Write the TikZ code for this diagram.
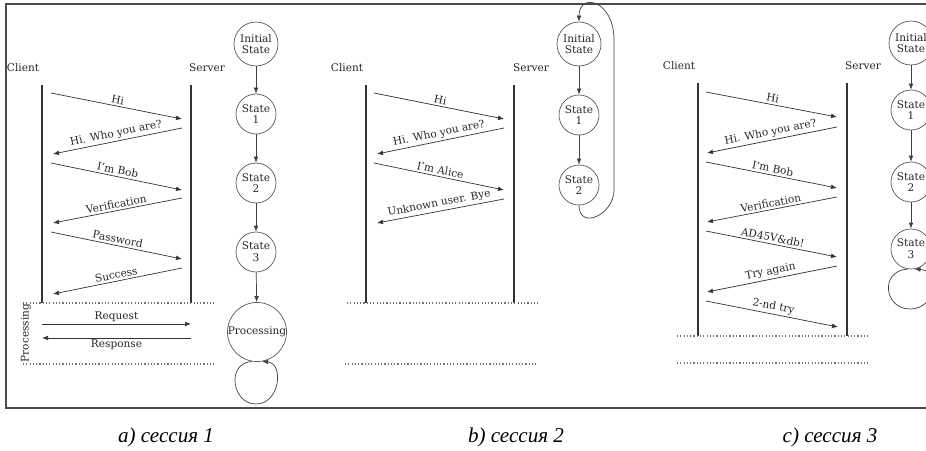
\documentclass[tikz,border=0pt]{standalone}
\usepackage{fontspec}
\setmainfont{DejaVu Serif}
\newfontfamily\capfont{Liberation Serif}
\usetikzlibrary{arrows.meta,calc}

\begin{document}
\begin{tikzpicture}[
    x=0.03cm, y=-0.03cm,
    every node/.style={font=\fontsize{9}{10}\selectfont, text=black!85},
    state/.style={circle, draw=black!65, line width=0.6pt, align=center, inner sep=1pt, minimum size=1.2cm},
    lifeline/.style={line width=1.5pt, draw=black!80},
    msg/.style={-{Latex[length=1.8mm, width=1.4mm]}, line width=0.6pt, draw=black!80},
    lbl/.style={midway, sloped, above, inner sep=1.8pt},
    trans/.style={-{Latex[length=1.8mm, width=1.4mm]}, line width=0.6pt, draw=black!75},
    sep/.style={line width=0.9pt, draw=black!55, dash pattern=on 1pt off 1.8pt},
    frame/.style={line width=0.9pt, draw=black!70},
    caption/.style={font=\capfont\itshape\fontsize{18}{20}\selectfont, text=black}
  ]
    \useasboundingbox (0,0) rectangle (926,451);
    \clip (0,0) rectangle (926,451);
    \draw[frame] (6,4) rectangle (950,408);

    % a) session 1: lifelines
    \coordinate (aC) at (42,85);
    \coordinate (aS) at (191,85);
    \coordinate (aCe) at (42,303);
    \coordinate (aSe) at (191,303);
    \node (aclient) at (23,68) {Client};
    \node (aserver) at (207,68) {Server};
    \draw[lifeline] (aC) -- (aCe);
    \draw[lifeline] (aS) -- (aSe);

    % a) messages
    \draw[msg] ($(aC)+(9,8)$) -- ($(aS)+(-9,34)$) node[lbl] {Hi};
    \draw[msg] ($(aS)+(-9,43)$) -- ($(aC)+(11,69)$) node[lbl] {Hi. Who you are?};
    \draw[msg] ($(aC)+(9,78)$) -- ($(aS)+(-9,105)$) node[lbl] {I'm Bob};
    \draw[msg] ($(aS)+(-9,113)$) -- ($(aC)+(11,138)$) node[lbl] {Verification};
    \draw[msg] ($(aC)+(9,147)$) -- ($(aS)+(-9,174)$) node[lbl] {Password};
    \draw[msg] ($(aS)+(-9,183)$) -- ($(aC)+(11,209)$) node[lbl] {Success};

    % a) processing block
    \draw[sep] ($(aCe)+(-19,0)$) -- ($(aSe)+(24,0)$);
    \draw[sep] ($(aCe)+(-19,61)$) -- ($(aSe)+(24,61)$);
    \node[rotate=90] (aproc) at (26,333) {Processing};
    \draw[msg] ($(aCe)+(0,21)$) -- ($(aSe)+(0,21)$) node[midway, above, inner sep=1.5pt] {Request};
    \draw[msg] ($(aSe)+(0,35)$) -- ($(aCe)+(0,35)$) node[midway, below, inner sep=1.5pt] {Response};

    % a) states
    \node[state, minimum size=1.32cm] (a0) at (256,44) {Initial\\State};
    \node[state] (a1) at (256,114) {State\\1};
    \node[state] (a2) at (256,183) {State\\2};
    \node[state] (a3) at (256,252) {State\\3};
    \node[state, minimum size=1.77cm, inner sep=0pt] (a4) at (257,332) {Processing};
    \draw[trans] (a0) -- (a1);
    \draw[trans] (a1) -- (a2);
    \draw[trans] (a2) -- (a3);
    \draw[trans] (a3) -- (a4);
    \draw[trans] (a4.-100) .. controls +(-26,2) and +(-24,0) .. (256,404)
      .. controls +(24,0) and +(22,2) .. (a4.-80);

    % b) session 2: lifelines
    \coordinate (bC) at (366,85);
    \coordinate (bS) at (514,85);
    \coordinate (bCe) at (366,303);
    \coordinate (bSe) at (514,303);
    \node (bclient) at (347,68) {Client};
    \node (bserver) at (531,68) {Server};
    \draw[lifeline] (bC) -- (bCe);
    \draw[lifeline] (bS) -- (bSe);

    % b) messages
    \draw[msg] ($(bC)+(8,8)$) -- ($(bS)+(-10,34)$) node[lbl] {Hi};
    \draw[msg] ($(bS)+(-10,43)$) -- ($(bC)+(11,69)$) node[lbl] {Hi. Who you are?};
    \draw[msg] ($(bC)+(8,78)$) -- ($(bS)+(-10,105)$) node[lbl] {I'm Alice};
    \draw[msg] ($(bS)+(-10,114)$) -- ($(bC)+(11,138)$) node[lbl] {Unknown user. Bye};
    \draw[sep] ($(bCe)+(-19,0)$) -- ($(bSe)+(26,0)$);
    \draw[sep] ($(bCe)+(-21,61)$) -- ($(bSe)+(24,61)$);

    % b) states
    \node[state, minimum size=1.32cm] (b0) at (579,44) {Initial\\State};
    \node[state] (b1) at (579,115) {State\\1};
    \node[state] (b2) at (579,185) {State\\2};
    \draw[trans] (b0) -- (b1);
    \draw[trans] (b1) -- (b2);
    \draw[trans] (b2.south) .. controls +(0,25) and +(0,25) .. (614,190) -- (614,40)
      .. controls +(0,-40) and +(0,-30) .. (b0.north);

    % c) session 3: lifelines
    \coordinate (cC) at (698,83);
    \coordinate (cS) at (847,83);
    \coordinate (cCe) at (698,336);
    \coordinate (cSe) at (847,336);
    \node (cclient) at (679,66) {Client};
    \node (cserver) at (863,66) {Server};
    \draw[lifeline] (cC) -- (cCe);
    \draw[lifeline] (cS) -- (cSe);

    % c) messages
    \draw[msg] ($(cC)+(8,9)$) -- ($(cS)+(-10,34)$) node[lbl] {Hi};
    \draw[msg] ($(cS)+(-10,44)$) -- ($(cC)+(9,70)$) node[lbl] {Hi. Who you are?};
    \draw[msg] ($(cC)+(8,79)$) -- ($(cS)+(-10,105)$) node[lbl] {I'm Bob};
    \draw[msg] ($(cS)+(-10,114)$) -- ($(cC)+(9,139)$) node[lbl] {Verification};
    \draw[msg] ($(cC)+(8,148)$) -- ($(cS)+(-10,174)$) node[lbl] {AD45V\&db!};
    \draw[msg] ($(cS)+(-10,183)$) -- ($(cC)+(9,209)$) node[lbl] {Try again};
    \draw[msg] ($(cC)+(8,218)$) -- ($(cS)+(-9,244)$) node[lbl] {2-nd try};
    \draw[sep] ($(cCe)+(-21,0)$) -- ($(cSe)+(22,0)$);
    \draw[sep] ($(cCe)+(-21,27)$) -- ($(cSe)+(22,27)$);

    % c) states
    \node[state, minimum size=1.32cm] (c0) at (911,43) {Initial\\State};
    \node[state] (c1) at (911,110) {State\\1};
    \node[state] (c2) at (911,182) {State\\2};
    \node[state] (c3) at (911,249) {State\\3};
    \draw[trans] (c0) -- (c1);
    \draw[trans] (c1) -- (c2);
    \draw[trans] (c2) -- (c3);
    \draw[trans] (c3.-100) .. controls +(-28,2) and +(-26,0) .. (910,309)
      .. controls +(26,0) and +(28,2) .. (c3.-80);

    % captions
    \node[caption] (capa) at (166,437) {a) сессия 1};
    \node[caption] (capb) at (516,437) {b) сессия 2};
    \node[caption] (capc) at (830,437) {c) сессия 3};
\end{tikzpicture}
\end{document}
